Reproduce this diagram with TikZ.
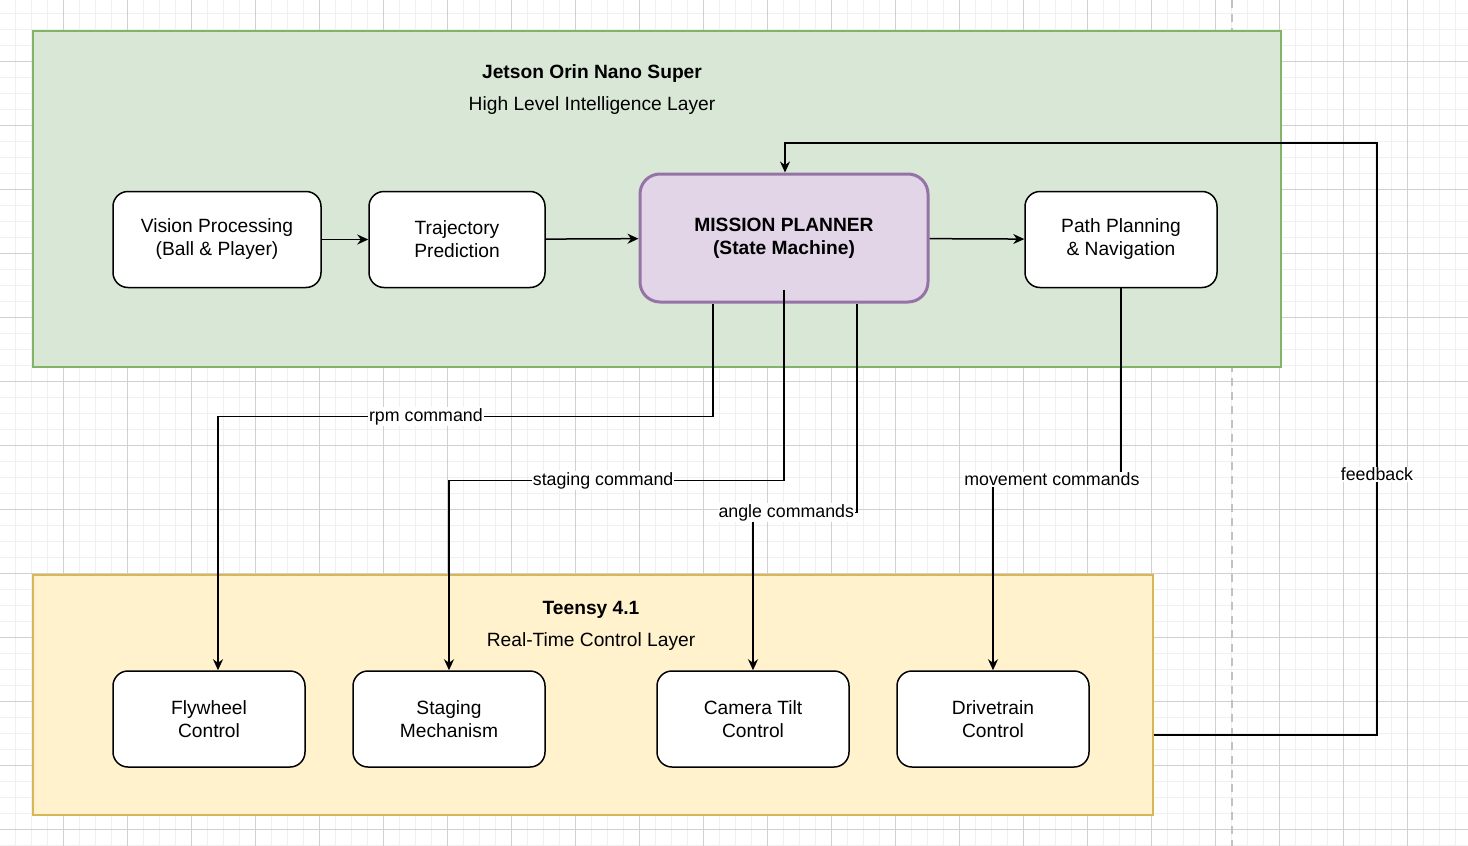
\documentclass[tikz,border=0pt]{standalone}
\usepackage{fontspec}
\setmainfont{Liberation Sans}
\usepackage{tikz}
\usetikzlibrary{calc}
\usetikzlibrary{arrows.meta,positioning}

\definecolor{gridminor}{HTML}{F0F0F0}
\definecolor{gridmajor}{HTML}{D0D0D0}
\definecolor{jetsonfill}{HTML}{D9E7D6}
\definecolor{jetsonline}{HTML}{82B366}
\definecolor{teensyfill}{HTML}{FFF2CD}
\definecolor{teensyline}{HTML}{D6B656}
\definecolor{plannerfill}{HTML}{E1D5E7}
\definecolor{plannerline}{HTML}{9673A6}

\tikzset{
  layer/.style={draw,line width=0.8pt,inner sep=0pt},
  block/.style={draw,fill=white,rounded corners=7.5pt,line width=0.75pt,inner sep=0pt,
    minimum height=48pt,align=center,font=\fontsize{9.6}{11.5}\selectfont},
  flow/.style={line width=0.75pt,-{Stealth[length=5.5pt,width=5pt]}},
  lbl/.style={fill=white,inner sep=0.5pt,font=\fontsize{8.9}{10.5}\selectfont},
  ttl/.style={font=\fontsize{9.6}{11.5}\selectfont}
}

\begin{document}
\begin{tikzpicture}[x=0.5pt,y=-0.5pt]
    \useasboundingbox (0,0) rectangle (1468,846);
    \fill[white] (0,0) rectangle (1468,846);
    \foreach \i in {0,...,91}
      \draw[gridminor,line width=0.5pt] (15.5+16*\i,0) -- (15.5+16*\i,846);
    \foreach \j in {0,...,52}
      \draw[gridminor,line width=0.5pt] (0,13+16*\j) -- (1468,13+16*\j);
    \foreach \i in {0,...,22}
      \draw[gridmajor,line width=0.5pt] (63.5+64*\i,0) -- (63.5+64*\i,846);
    \foreach \j in {0,...,13}
      \draw[gridmajor,line width=0.5pt] (0,61+64*\j) -- (1468,61+64*\j);
    \draw[gridmajor!130,line width=0.8pt,dash pattern=on 4pt off 3pt] (1232,0) -- (1232,846);

    \node[layer,draw=jetsonline,fill=jetsonfill,minimum width=624pt,minimum height=168pt] (jetson) at (657,199) {};
    \node[layer,draw=teensyline,fill=teensyfill,minimum width=560pt,minimum height=120pt] (teensy) at (593,695) {};

    \node[ttl,font=\fontsize{9.6}{11.5}\selectfont\bfseries] (jetsonname) at (592,74) {Jetson Orin Nano Super};
    \node[ttl] (jetsonrole) at (592,106) {High Level Intelligence Layer};
    \node[ttl,font=\fontsize{9.6}{11.5}\selectfont\bfseries] (teensyname) at (591,610) {Teensy 4.1};
    \node[ttl] (teensyrole) at (591,642) {Real-Time Control Layer};

    \node[block,minimum width=104pt] (vision) at (217,239.5) {Vision Processing\\(Ball \& Player)};
    \node[block,minimum width=88pt] (traj) at (457,239.5) {Trajectory\\Prediction};
    \node[block,minimum width=144pt,minimum height=64pt,rounded corners=10pt,line width=1.5pt,
      draw=plannerline,fill=plannerfill,font=\fontsize{9.6}{11.5}\selectfont\bfseries] (mp) at (784,238) {MISSION PLANNER\\(State Machine)};
    \node[block,minimum width=96pt] (path) at (1121,239.5) {Path Planning\\\& Navigation};

    \node[block,minimum width=96pt] (fly) at (209,719) {Flywheel\\Control};
    \node[block,minimum width=96pt] (stg) at (449,719) {Staging\\Mechanism};
    \node[block,minimum width=96pt] (cam) at (753,719) {Camera Tilt\\Control};
    \node[block,minimum width=96pt] (drive) at (993,719) {Drivetrain\\Control};

    \draw[flow] (vision) -- (traj);
    \draw[flow] (traj) -- (mp);
    \draw[flow] (mp) -- (path);

    \draw[flow] ([xshift=-35.5pt]mp.south) -- ++(0,113) -| ([xshift=4.5pt]fly.north)
      node[lbl,pos=0.29] {rpm command};
    \draw[flow] ([yshift=7pt]mp.south) -- ++(0,191) -| (stg.north)
      node[lbl,pos=0.27] {staging command};
    \draw[flow] ([xshift=36.5pt]mp.south) -- ++(0,209) -| (cam.north)
      node[lbl,pos=0.34] {angle commands};
    \draw[flow] (path.south) -- ++(0,191) -| (drive.north)
      node[lbl,pos=0.27] {movement commands};

    \coordinate (fbturn) at (1377,143);
    \draw[flow] ([yshift=-20pt]teensy.east) -| (fbturn) node[lbl,pos=0.72] {feedback}
      -| ([xshift=0.5pt]mp.north);
  \end{tikzpicture}
\end{document}
